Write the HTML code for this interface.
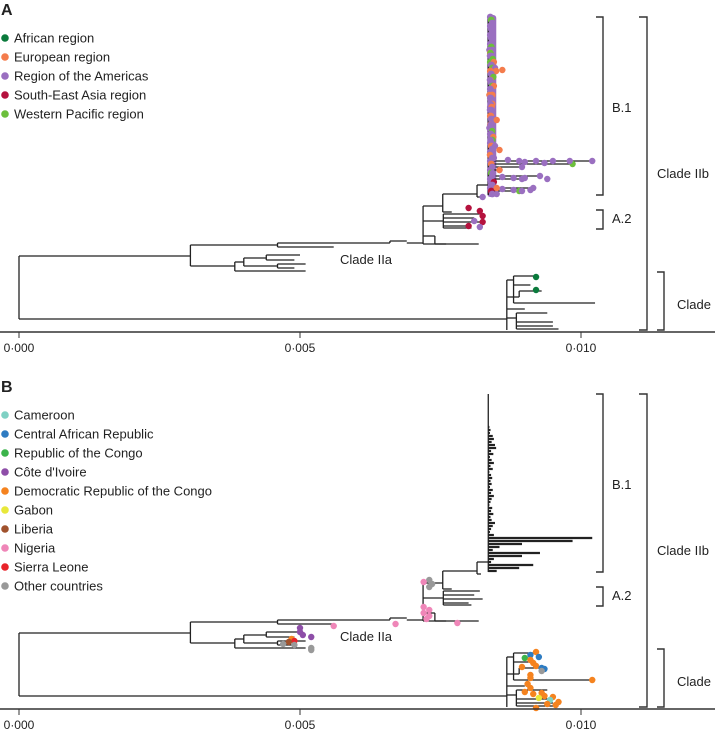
<!DOCTYPE html>
<html><head><meta charset="utf-8"><style>
html,body{margin:0;padding:0;background:#fff;}
svg{display:block;font-family:"Liberation Sans",sans-serif;}
</style></head><body>
<svg id="fig" width="715" height="734" viewBox="0 0 715 734" xmlns="http://www.w3.org/2000/svg"></svg>
<script>
// ---- data (distances in substitutions x1e-3, rows = vertical tip order units) ----
const tickValues = [0, 5, 10];
const tickLabels = ["0·000", "0·005", "0·010"];
const legendA = ["African region","European region","Region of the Americas","South-East Asia region","Western Pacific region"];
const legendAColors = ["#0a7a3c","#f47c4c","#9a6fc0","#b5123e","#6cbf3c"];
const legendB = ["Cameroon","Central African Republic","Republic of the Congo","Côte d'Ivoire","Democratic Republic of the Congo","Gabon","Liberia","Nigeria","Sierra Leone"," Other countries"];
const legendBColors = ["#7fd1c4","#2e7cc2","#3cb44b","#8e4ea8","#f5831f","#e8e83a","#a0522d","#ef86b8","#e8232a","#999999"];
const hBranches = [[0,3.05,256],[0,8.68,319],[3.05,4.6,245],[4.6,6.6,243],[4.6,5.6,247],[6.6,6.9,241],[6.9,7.19,243],[3.05,3.84,266],[3.84,4.0,262],[3.84,5.1,271],[4.0,4.4,258],[4.0,4.6,266],[4.4,5.0,255],[4.4,4.9,260],[4.6,5.1,264],[4.6,4.9,268],
 [7.19,7.54,206],[7.54,8.15,194],[8.15,8.35,185],[8.15,8.22,197],[7.54,7.7,212],[7.19,7.55,221],[7.55,8.2,214],[7.55,8.1,218],[7.55,8.25,222],[7.55,8.0,226],[7.55,8.05,228],[7.19,8.18,244],[7.19,7.4,236],[7.4,7.6,244],
 [8.68,8.8,280],[8.8,9.2,276],[8.8,9.1,285],[8.8,10.25,303],[8.9,9.3,291],[8.68,8.9,297],[8.68,8.85,318],[8.85,9.4,313],[8.85,9.5,322],[8.85,9.5,326],[8.85,9.6,329],[8.68,9.0,309]];
const vBranches = [[0,256,319],[3.05,245,266],[4.6,243,247],[6.6,241,243],[3.84,262,271],[4.0,258,266],[4.4,255,260],[4.6,264,268],
 [7.19,206,244],[7.54,194,212],[8.15,185,197],[8.35,17,195],[7.55,214,228],[7.4,236,244],
 [8.68,280,330],[8.8,276,303],[8.9,291,297],[8.85,313,329]];
const b1Len = [0,0,0,0,0,0,0,0,0,0,0,2,4,3,8,10,6,12,14,5,9,3,6,10,4,8,2,5,7,4,6,3,8,5,10,6,4,2,7,5,9,4,6,12,8,5,3,10,185,150,60,20,8,92,60,10,5,80,55,15];
const b1ColA = "pgppppppppgpoppgpgoppopgppoppopppoppoppppgpopppppoppgppppprp";
const tipsA = [[8.0,208,"r"],[8.2,211,"r"],[8.25,216,"r"],[8.1,221,"p"],[8.25,222,"r"],[8.0,226,"r"],[8.2,227,"p"],[8.25,197,"p"],[9.2,277,"a"],[9.2,290,"a"],
 [9.8,161,"p"],[9.5,161,"p"],[9.2,161,"p"],[8.9,161,"p"],[8.7,160,"p"],[9.0,162,"p"],[9.35,163,"p"],
 [9.0,178,"p"],[9.4,179,"p"],[8.8,178,"p"],[8.6,177,"p"],[8.8,190,"p"],[9.1,190,"p"],[8.6,189,"p"],[8.95,191,"p"],[8.5,188,"o"],[8.55,170,"o"],[8.6,70,"o"],[8.5,120,"o"],[8.55,150,"o"]];
const colA = {p:"#9a6fc0",o:"#f47c4c",g:"#6cbf3c",r:"#b5123e",a:"#0a7a3c"};
const colB = {n:"#ef86b8",o:"#999999",c:"#8e4ea8",d:"#f5831f",s:"#e8232a",l:"#a0522d",r:"#f5831f",b:"#2e7cc2",g:"#3cb44b",y:"#e8e83a",t:"#7fd1c4"};
const tipsB = [[5.6,249,"n"],[6.7,247,"n"],[7.2,230,"n"],[7.3,233,"n"],[7.2,236,"n"],[7.3,239,"n"],[7.25,242,"n"],[7.8,246,"n"],[7.3,203,"o"],[7.35,207,"o"],[7.3,210,"o"],[7.2,205,"n"],
 [5.0,251,"c"],[5.0,255,"c"],[5.05,258,"c"],[5.2,260,"c"],[4.85,262,"d"],[4.9,264,"s"],[4.8,265,"l"],[4.7,267,"o"],[4.9,268,"o"],[5.2,271,"o"],[5.2,273,"o"],
 [9.2,275,"r"],[9.1,278,"b"],[9.25,280,"b"],[9.0,281,"g"],[9.1,283,"r"],[9.15,286,"r"],[9.2,289,"r"],[9.3,291,"b"],[9.35,292,"b"],[9.3,294,"o"],[8.95,290,"r"],[9.1,298,"r"],[9.1,301,"r"],[10.2,303,"r"],[9.05,307,"r"],[9.1,311,"r"],[9.0,315,"r"],[9.15,317,"r"],[9.3,316,"r"],[9.35,319,"r"],[9.5,320,"r"],[9.25,321,"y"],[9.45,323,"t"],[9.6,325,"r"],[9.4,327,"r"],[9.55,328,"r"],[9.2,331,"r"]];

const NS = "http://www.w3.org/2000/svg";
const svg = document.getElementById("fig");
function xS(d){ return 19 + d * 56.2; }
function yS(r, off){ return r + off; }
function mk(tag, attrs, parent){
  const e = document.createElementNS(NS, tag);
  for (const k in attrs) e.setAttribute(k, attrs[k]);
  (parent || svg).appendChild(e);
  return e;
}

function panel(off, letter, legend, legendColors, colored, colorMap, tips){
  const g = mk("g", {});
  
  
  const t = mk("text", {x: 1, y: off + 15, "font-size": 16, "font-weight": "bold", fill: "#222"}, g);
  t.textContent = letter;
  
  
  legend.forEach((name, i) => {
    const ly = off + 38 + i * 19;
    const c = mk("circle", {cx: 5, cy: ly, r: 3.8, fill: legendColors[i]}, g);
    
    
    const tx = mk("text", {x: 14, y: ly + 4.5, "font-size": 13, fill: "#222"}, g);
    tx.textContent = name;
    
    
  });
  if (colored) {
    const band = mk("rect", {x: xS(8.35) - 1, y: off + 15, width: 9, height: 182, fill: "#9a6fc0", rx: 3}, g);
    
    
  }
  const tree = mk("g", {stroke: "#222", "stroke-width": 1.3, fill: "none"}, g);
  
  
  hBranches.forEach(b => {
    const l = mk("line", {x1: xS(b[0]), x2: xS(b[1]), y1: yS(b[2], off), y2: yS(b[2], off)}, tree);
    
    
  });
  vBranches.forEach(b => {
    const l = mk("line", {x1: xS(b[0]), x2: xS(b[0]), y1: yS(b[1], off), y2: yS(b[2], off)}, tree);
    
    
  });
  b1Len.forEach((len, i) => {
    const r = 17 + i * 3;
    const l = mk("line", {x1: xS(8.35), x2: xS(8.35 + len / 100), y1: yS(r, off), y2: yS(r, off), "stroke-width": colored ? 1.3 : 2.2}, tree);
    
    
  });
  const dots = mk("g", {}, g);
  
  
  if (colored) {
    b1Len.forEach((len, i) => {
      const r = 17 + i * 3;
      const c = colorMap[b1ColA[i] || "p"];
      const d0 = mk("circle", {cx: xS(8.35) + 2 + (i % 3), cy: yS(r, off), r: 3.4, fill: c}, dots);
      
      
      if (len > 0) {
        const d1 = mk("circle", {cx: xS(8.35 + len / 100), cy: yS(r, off), r: 3.2, fill: colorMap[b1ColA[(i + 3) % b1ColA.length] || "p"]}, dots);
        
        
      }
    });
  }
  tips.forEach(tp => {
    const d = mk("circle", {cx: xS(tp[0]), cy: yS(tp[1], off), r: 3.2, fill: colorMap[tp[2]]}, dots);
    
    
  });
  const ax = mk("g", {}, g);
  
  
  mk("line", {x1: 0, x2: 715, y1: off + 332, y2: off + 332, stroke: "#333", "stroke-width": 1.4}, ax);
  tickValues.forEach((v, i) => {
    mk("line", {x1: xS(v), x2: xS(v), y1: off + 332, y2: off + 338, stroke: "#333", "stroke-width": 1}, ax);
    const tl = mk("text", {x: xS(v), y: off + 352, "font-size": 12, "text-anchor": "middle", fill: "#222"}, ax);
    tl.textContent = tickLabels[i];
    
    
  });
  const br = mk("g", {stroke: "#333", "stroke-width": 1.4, fill: "none"}, g);
  
  
  [[603, 17, 195, 596], [603, 210, 229, 596], [647, 17, 330, 639], [664, 272, 330, 657]].forEach(b => {
    mk("path", {d: `M${b[3]} ${off + b[1]}H${b[0]}V${off + b[2]}H${b[3]}`}, br);
  });
  [["B.1", 612, 112], ["A.2", 612, 223], ["Clade IIb", 657, 178], ["Clade I", 677, 309], ["Clade IIa", 340, 264]].forEach(l => {
    const tx = mk("text", {x: l[1], y: off + l[2], "font-size": 13, fill: "#222"}, g);
    tx.textContent = l[0];
    
    
  });
}
panel(0, "A", legendA, legendAColors, true, colA, tipsA);
panel(377, "B", legendB, legendBColors, false, colB, tipsB);
</script>
</body></html>
